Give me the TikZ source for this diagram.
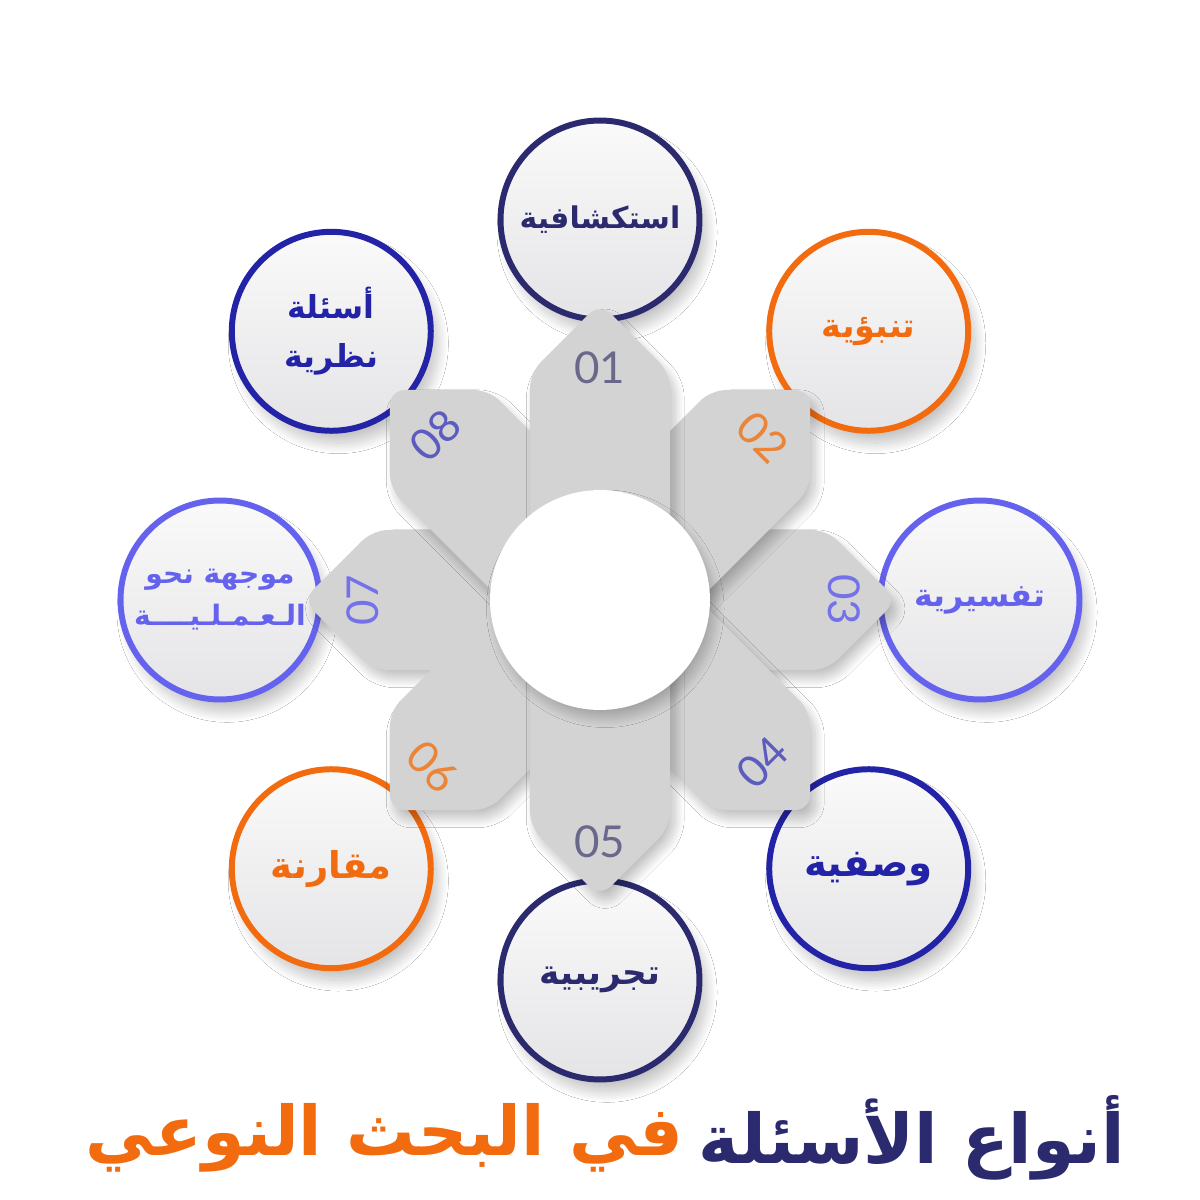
\documentclass[tikz,border=0pt]{standalone}
\usepackage{fontspec}
\usetikzlibrary{shadows.blur}
\TeXXeTstate=1
\newfontfamily\arabicfont[Script=Arabic]{DejaVu Sans}
\newfontfamily\numfont{Lato}
\definecolor{navyDark}{HTML}{2B2A6E}
\definecolor{accentOrange}{HTML}{F26B0F}
\definecolor{softViolet}{HTML}{6563EE}
\definecolor{deepBlue}{HTML}{2323A8}
\definecolor{petalGrey}{HTML}{D3D3D4}
\definecolor{numGrey}{HTML}{6A688A}
\definecolor{numOrange}{HTML}{EC8438}
\definecolor{numViolet}{HTML}{7472E8}
\definecolor{numBlue}{HTML}{5C5BC0}

\begin{document}
\begin{tikzpicture}[
    x=0.02cm, y=0.02cm,
    bubble/.style={circle, minimum size=3.98cm, inner sep=0pt, line width=3.4pt,
                   top color=white!96!gray, bottom color=blue!5!gray!20,
                   align=center, wordsize=17,
                   blur shadow={shadow xshift=4pt, shadow yshift=-7pt,
                                shadow blur radius=6pt, shadow blur steps=24,
                                shadow opacity=24}},
    wordsize/.style={font=\arabicfont\bfseries\fontsize{#1}{28}\selectfont},
    numtag/.style={font=\numfont\fontsize{25}{25}\selectfont, inner sep=0pt},
    petal/.style={fill=petalGrey, rounded corners=0.3cm,
                  blur shadow={shadow xshift=3pt, shadow yshift=-5pt,
                               shadow blur radius=5pt, shadow blur steps=20,
                               shadow opacity=24}},
    headline/.style={anchor=east, inner sep=0pt,
                     font=\arabicfont\bfseries\fontsize{39}{46}\selectfont}
  ]
    \fill[white] (-600,-600) rectangle (600,600);
    \useasboundingbox (-600,-600) rectangle (600,600);

    % outer bubbles
    \node[bubble, draw=navyDark, text=navyDark] (q1) at (90:380) {\beginR استكشافية\endR};
    \node[bubble, draw=accentOrange, text=accentOrange, wordsize=19] (q2) at (45:380) {\beginR تنبؤية\endR};
    \node[bubble, draw=softViolet, text=softViolet, wordsize=18] (q3) at (0:380) {\beginR تفسيرية\endR};
    \node[bubble, draw=deepBlue, text=deepBlue, wordsize=22] (q4) at (-45:380) {\beginR وصفية\endR};
    \node[bubble, draw=navyDark, text=navyDark, wordsize=19.5] (q5) at (-90:380) {\beginR تجريبية\endR};
    \node[bubble, draw=accentOrange, text=accentOrange, wordsize=21] (q6) at (-135:380) {\beginR مقارنة\endR};
    \node[bubble, draw=softViolet, text=softViolet,
          font=\arabicfont\bfseries\fontsize{16}{24}\selectfont] (q7) at (180:380)
          {\beginR موجهة نحو\endR\\\beginR الـعـمـلـيــــة\endR};
    \node[bubble, draw=deepBlue, text=deepBlue, wordsize=18] (q8) at (135:380)
          {\beginR أسئلة\endR\\\beginR نظرية\endR};

    % petals, bottom layer first
    \foreach \ang in {0,180,45,-45,-135,135,90,-90}
      \fill[petal, rotate=\ang] (0,-70) -- (227,-70) -- (297,0) -- (227,70) -- (0,70) -- cycle;

    \node[numtag, text=numGrey] (n1) at (90:232) {01};
    \node[numtag, text=numOrange, rotate=-45] (n2) at (45:230) {02};
    \node[numtag, text=numViolet, rotate=-90] (n3) at (0:244) {03};
    \node[numtag, text=numBlue, rotate=45] (n4) at (-45:230) {04};
    \node[numtag, text=numGrey] (n5) at (-90:242) {05};
    \node[numtag, text=numOrange, rotate=-45] (n6) at (-135:236) {06};
    \node[numtag, text=numViolet, rotate=90] (n7) at (180:237) {07};
    \node[numtag, text=numBlue, rotate=45] (n8) at (135:233) {08};

    % hub
    \node[circle, fill=white, minimum size=4.4cm, inner sep=0pt,
          blur shadow={shadow xshift=3pt, shadow yshift=-5pt,
                       shadow blur radius=5pt, shadow blur steps=20,
                       shadow opacity=22}] (hub) at (0,0) {};

    % title, two colours
    \node[headline, text=navyDark] (tnavy) at (525,-538) {\beginR أنواع الأسئلة\endR};
    \node[headline, text=accentOrange] (torange) at ([xshift=-0.3cm]tnavy.west) {\beginR في البحث النوعي\endR};
  \end{tikzpicture}
\end{document}
